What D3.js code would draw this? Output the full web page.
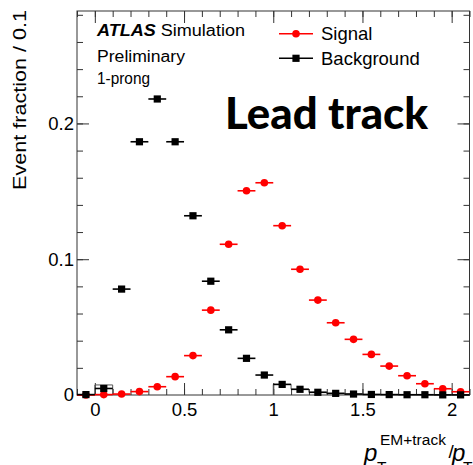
<!DOCTYPE html>
<html>
<head>
<meta charset="utf-8">
<script src="https://cdn.jsdelivr.net/npm/d3@7/dist/d3.min.js"></script>
<style>
  html, body { margin: 0; padding: 0; background: #fff; }
  svg { display: block; font-family: "Liberation Sans", Arial, sans-serif; }
</style>
</head>
<body>
<svg id="chart" width="473" height="465"></svg>
<script>
// Bin centres of the p_T^{EM+track}/p_T distribution (bin width 0.1)
const binCenters = [-0.05, 0.05, 0.15, 0.25, 0.35, 0.45, 0.55, 0.65, 0.75, 0.85, 0.95,
                    1.05, 1.15, 1.25, 1.35, 1.45, 1.55, 1.65, 1.75, 1.85, 1.95, 2.05];
const binWidth = 0.1;

// Normalised event fractions
const signalValues = [0.0, 0.0003, 0.0007, 0.0025, 0.0061, 0.0135, 0.029, 0.0625, 0.111, 0.1504, 0.1563,
                      0.1247, 0.0926, 0.0699, 0.0532, 0.041, 0.0299, 0.0213, 0.0142, 0.0083, 0.0046, 0.0024];
const backgroundValues = [0.0003, 0.0048, 0.078, 0.1865, 0.218, 0.1865, 0.132, 0.0838, 0.048, 0.027, 0.0147,
                          0.0078, 0.0042, 0.002, 0.0012, 0.0007, 0.0004, 0.0003, 0.0002, 0.0002, 0.0001, 0.0001];

// Outline histogram segments: low edge and value of each bin
const outlineLow  = [0.0, 1.0, 1.1, 1.2, 1.3, 1.4, 1.5, 1.6, 1.7, 1.8, 1.9, 2.0];
const outlineVals = [0.0074, 0.0078, 0.0042, 0.002, 0.0012, 0.0007, 0.0004, 0.0003, 0.0002, 0.0002, 0.0001, 0.0001];

const xMajorTicks = [0, 0.5, 1, 1.5, 2];
const yMajorTicks = [0, 0.1, 0.2];

const svg = d3.select("#chart");
const frame = { left: 77, right: 469.5, top: 11, bottom: 395 };

const x = d3.scaleLinear().domain([-0.1, 2.1]).range([frame.left, frame.right]);
const y = d3.scaleLinear().domain([0, 0.2828]).range([frame.bottom, frame.top]);

const axisColor = "#333";

// Frame box
svg.append("rect")
  .attr("x", frame.left).attr("y", frame.top)
  .attr("width", frame.right - frame.left).attr("height", frame.bottom - frame.top)
  .attr("fill", "none").attr("stroke", axisColor).attr("stroke-width", 1);

const xMinor = d3.range(-0.1, 2.1001, 0.1).map(v => +v.toFixed(2));
const yMinor = d3.range(0, 0.2801, 0.02).map(v => +v.toFixed(2));

function styleAxis(g) {
  g.select(".domain").remove();
  g.selectAll(".tick line").attr("stroke", axisColor).attr("stroke-width", 1);
  g.selectAll(".tick text").attr("fill", "#000");
}

// Bottom axis (ticks pointing inward)
svg.append("g").attr("transform", `translate(0,${frame.bottom})`)
  .call(d3.axisBottom(x).tickValues(xMinor).tickSize(-6).tickFormat(""))
  .call(styleAxis);
svg.append("g").attr("transform", `translate(0,${frame.bottom})`)
  .call(d3.axisBottom(x).tickValues(xMajorTicks).tickSize(-12).tickPadding(8).tickFormat(d3.format("")))
  .call(styleAxis)
  .call(g => g.selectAll("text").attr("font-size", 18.5).attr("font-family", "Liberation Sans"));

// Top axis
svg.append("g").attr("transform", `translate(0,${frame.top})`)
  .call(d3.axisTop(x).tickValues(xMinor).tickSize(-6).tickFormat(""))
  .call(styleAxis);
svg.append("g").attr("transform", `translate(0,${frame.top})`)
  .call(d3.axisTop(x).tickValues(xMajorTicks).tickSize(-12).tickFormat(""))
  .call(styleAxis);

// Left axis
svg.append("g").attr("transform", `translate(${frame.left},0)`)
  .call(d3.axisLeft(y).tickValues(yMinor).tickSize(-6).tickFormat(""))
  .call(styleAxis);
svg.append("g").attr("transform", `translate(${frame.left},0)`)
  .call(d3.axisLeft(y).tickValues(yMajorTicks).tickSize(-12).tickPadding(3).tickFormat(d3.format("")))
  .call(styleAxis)
  .call(g => g.selectAll("text").attr("font-size", 18.5).attr("font-family", "Liberation Sans"));

// Right axis
svg.append("g").attr("transform", `translate(${frame.right},0)`)
  .call(d3.axisRight(y).tickValues(yMinor).tickSize(-6).tickFormat(""))
  .call(styleAxis);
svg.append("g").attr("transform", `translate(${frame.right},0)`)
  .call(d3.axisRight(y).tickValues(yMajorTicks).tickSize(-12).tickFormat(""))
  .call(styleAxis);

// Outline histogram (thin grey steps)
const outlineGroup = svg.append("g").attr("fill", "none").attr("stroke", "#555").attr("stroke-width", 1);
// first box
outlineGroup.append("path").attr("d", (() => {
  const p = d3.path();
  p.moveTo(x(outlineLow[0]), y(0));
  p.lineTo(x(outlineLow[0]), y(outlineVals[0]));
  p.lineTo(x(outlineLow[0] + binWidth), y(outlineVals[0]));
  p.lineTo(x(outlineLow[0] + binWidth), y(0));
  return p.toString();
})());
// step section
outlineGroup.append("path").attr("d", (() => {
  const p = d3.path();
  p.moveTo(x(outlineLow[1]), y(0));
  for (let i = 1; i < outlineLow.length; i++) {
    p.lineTo(x(outlineLow[i]), y(outlineVals[i]));
    p.lineTo(x(outlineLow[i] + binWidth), y(outlineVals[i]));
  }
  return p.toString();
})());

// Data series drawn as points with horizontal bin-width bars
function drawSeries(values, color, shape) {
  const g = svg.append("g");
  const pts = binCenters.map((c, i) => ({ c, v: values[i] }));
  g.selectAll("line").data(pts).join("line")
    .attr("x1", d => x(d.c - binWidth / 2)).attr("x2", d => x(d.c + binWidth / 2))
    .attr("y1", d => y(d.v)).attr("y2", d => y(d.v))
    .attr("stroke", color).attr("stroke-width", 1.6);
  if (shape === "circle") {
    g.selectAll("circle").data(pts).join("circle")
      .attr("cx", d => x(d.c)).attr("cy", d => y(d.v)).attr("r", 3.8)
      .attr("fill", color);
  } else {
    g.selectAll("rect").data(pts).join("rect")
      .attr("x", d => x(d.c) - 3.6).attr("y", d => y(d.v) - 3.6)
      .attr("width", 7.2).attr("height", 7.2).attr("fill", color);
  }
}
drawSeries(signalValues, "#ff0000", "circle");
drawSeries(backgroundValues, "#000000", "square");

// Labels
const lab = svg.append("g").attr("fill", "#000");
const atlas = lab.append("text").attr("x", 97).attr("y", 35.5).attr("font-size", 16)
  .attr("textLength", 148).attr("lengthAdjust", "spacingAndGlyphs");
atlas.append("tspan").attr("font-weight", "bold").attr("font-style", "italic").text("ATLAS");
atlas.append("tspan").text(" Simulation");
lab.append("text").attr("x", 97).attr("y", 61.5).attr("font-size", 16)
  .attr("textLength", 88).attr("lengthAdjust", "spacingAndGlyphs").text("Preliminary");
lab.append("text").attr("x", 97).attr("y", 83.5).attr("font-size", 16.5)
  .attr("textLength", 53).attr("lengthAdjust", "spacingAndGlyphs").text("1-prong");

// Legend
const legendItems = [
  { name: "Signal", color: "#ff0000", shape: "circle", yy: 33.7 },
  { name: "Background", color: "#000000", shape: "square", yy: 58.3 }
];
legendItems.forEach(it => {
  lab.append("line").attr("x1", 279).attr("x2", 313).attr("y1", it.yy).attr("y2", it.yy)
    .attr("stroke", it.color).attr("stroke-width", 1.6);
  if (it.shape === "circle") {
    lab.append("circle").attr("cx", 296).attr("cy", it.yy).attr("r", 3.8).attr("fill", it.color);
  } else {
    lab.append("rect").attr("x", 296 - 3.6).attr("y", it.yy - 3.6).attr("width", 7.2).attr("height", 7.2).attr("fill", it.color);
  }
  lab.append("text").attr("x", 321).attr("y", it.yy + 6.3).attr("font-size", 18.5).text(it.name);
});

// Big annotation
lab.append("text").attr("x", 225).attr("y", 129.3)
  .attr("font-family", "Lato, 'Open Sans', sans-serif").attr("font-weight", 900).attr("font-size", 43)
  .attr("textLength", 203).attr("lengthAdjust", "spacingAndGlyphs").text("Lead track");

// Y axis title
lab.append("text").attr("transform", "translate(25.5,10) rotate(-90)")
  .attr("text-anchor", "end").attr("font-size", 18)
  .attr("textLength", 180).attr("lengthAdjust", "spacingAndGlyphs")
  .text("Event fraction / 0.1");

// X axis title: p_T^{EM+track}/p_T, built as one text with positioned pieces
const xTitle = lab.append("text").attr("x", 364).attr("y", 461).attr("font-size", 24);
xTitle.append("tspan").attr("font-style", "italic").text("p");
xTitle.append("tspan").attr("x", 377).attr("y", 472).attr("font-size", 15.5).text("T");
xTitle.append("tspan").attr("x", 380).attr("y", 445).attr("font-size", 15.5).text("EM+track");
xTitle.append("tspan").attr("x", 448.5).attr("y", 458).attr("font-size", 19).text("/");
xTitle.append("tspan").attr("x", 452).attr("y", 461).attr("font-style", "italic").text("p");
xTitle.append("tspan").attr("x", 463).attr("y", 472).attr("font-size", 15.5).text("T");
</script>
</body>
</html>
